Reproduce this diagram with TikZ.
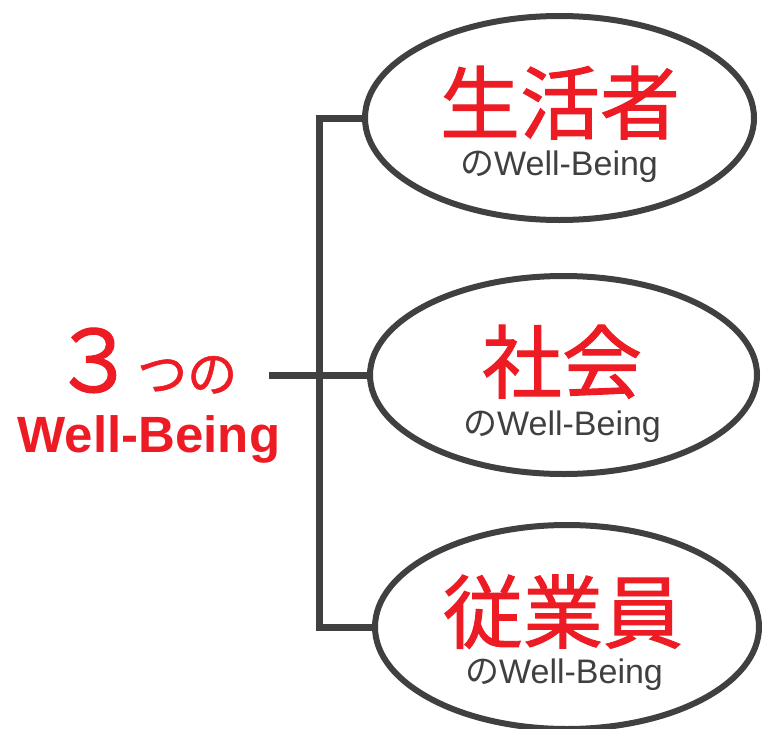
\documentclass[tikz,border=0pt]{standalone}
\usepackage{fontspec}
\setmainfont{Liberation Sans}
\newfontfamily\cjk{Noto Sans CJK JP}
\newfontfamily\cjkb[FakeBold=1.2]{Noto Sans CJK JP}
\usetikzlibrary{shapes.geometric}
\definecolor{wbred}{HTML}{ED1C24}
\definecolor{wbgray}{HTML}{404040}
\tikzset{
  oval/.style={ellipse, draw=wbgray, line width=6pt, fill=white, inner sep=0pt},
  conn/.style={draw=wbgray, line width=7pt},
  bigtxt/.style={text=wbred, inner sep=0pt, anchor=base, font=\cjkb\fontsize{80}{80}\selectfont},
  subtxt/.style={text=wbgray, inner sep=0pt, anchor=base, font=\fontsize{34}{34}\selectfont},
}
\begin{document}
\begin{tikzpicture}[x=1pt,y=-1pt]
\useasboundingbox (0,0) rectangle (765,728);
% ovals
\node[oval, minimum width=389pt, minimum height=204pt] (top) at (559.5,118) {};
\node[oval, minimum width=387pt, minimum height=198pt] (mid) at (563.5,375) {};
\node[oval, minimum width=384pt, minimum height=204pt] (bot) at (567,627) {};
% connectors
\coordinate (jt) at (319,118);
\coordinate (jb) at (319,627);
\coordinate (stub) at (269,375);
\draw[conn] (top.west) -- (jt) -- (jb) -- (bot.west);
\draw[conn] (stub) -- (mid.west);
% texts in ovals
\node[bigtxt] (t1) at (560,133) {生活者};
\node[subtxt] (s1) at (559,175) {{\cjk の}Well-Being};
\node[bigtxt] (t2) at (562,392) {社会};
\node[subtxt] (s2) at (562,435) {{\cjk の}Well-Being};
\node[bigtxt] (t3) at (563,642) {従業員};
\node[subtxt] (s3) at (564,683) {{\cjk の}Well-Being};
% left label
\node[text=wbred, inner sep=0pt, anchor=base west] (three) at (51,392)
  {\cjkb\fontsize{86}{86}\selectfont ３\fontsize{50}{50}\selectfont つの};
\node[text=wbred, inner sep=0pt, anchor=base, font=\bfseries\fontsize{51}{51}\selectfont] (wb) at (149,452) {Well-Being};
\end{tikzpicture}
\end{document}
